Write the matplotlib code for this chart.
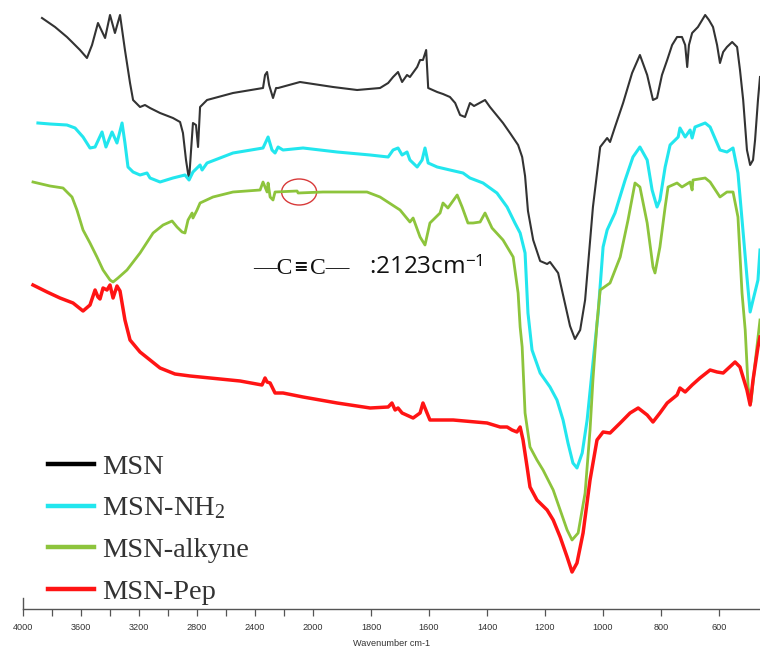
import numpy as np
import matplotlib
matplotlib.use("Agg")
import matplotlib.pyplot as plt
from matplotlib.patches import Ellipse
from matplotlib.transforms import ScaledTranslation
from matplotlib.lines import Line2D

# ---------------- data (wavenumber cm-1, transmittance a.u. with offsets) ----------------
msn_w = [3869, 3779, 3697, 3662, 3607, 3559, 3524, 3483, 3434, 3400, 3366, 3331, 3297, 3262, 3241,
         3193, 3159, 3124, 3055, 2966, 2917, 2897, 2876, 2855, 2841, 2828, 2807, 2793, 2779, 2731,
         2552, 2345, 2331, 2317, 2303, 2276, 2255, 2241, 2090, 1931, 1848, 1769, 1741, 1724, 1707,
         1693, 1676, 1666, 1641, 1631, 1621, 1610, 1603, 1572, 1552, 1528, 1510, 1493, 1476, 1459,
         1445, 1407, 1390, 1345, 1321, 1293, 1279, 1269, 1259, 1241, 1217, 1193, 1183, 1155, 1138,
         1114, 1097, 1079, 1062, 1035, 1010, 986, 976, 959, 931, 900, 873, 848, 828, 814, 797, 779,
         762, 745, 728, 717, 710, 704, 693, 673, 648, 635, 621, 607, 597, 586, 573, 555, 538, 528,
         517, 504, 493, 483, 476, 466, 459]
msn_t = [591, 582, 572, 567, 559, 551, 564, 586, 571, 594, 576, 594, 559, 526, 509,
         502, 504, 501, 496, 491, 487, 476, 449, 429, 459, 486, 484, 462, 502, 509,
         516, 521, 534, 537, 524, 511, 521, 521, 527, 522, 519, 521, 526, 532, 537,
         527, 534, 532, 542, 549, 549, 559, 521, 517, 515, 512, 506, 494, 492, 506,
         503, 509, 502, 486, 476, 464, 452, 433, 398, 369, 348, 345, 347, 336, 314,
         283, 270, 279, 309, 402, 462, 471, 467, 482, 506, 536, 554, 534, 509, 511, 534, 549,
         564, 572, 572, 564, 542, 564, 576, 582, 594, 589, 582, 564, 546, 557, 562, 567, 562, 539,
         509, 459, 444, 449, 469, 509, 532]

nh2_w = [3897, 3814, 3697, 3641, 3586, 3538, 3503, 3455, 3428, 3386, 3352, 3317, 3297, 3276, 3241,
         3193, 3145, 3124, 3055, 2966, 2883, 2855, 2828, 2779, 2765, 2731, 2552, 2345, 2310, 2283,
         2262, 2241, 2207, 2069, 1917, 1803, 1741, 1724, 1707, 1693, 1676, 1666, 1641, 1624, 1614,
         1603, 1572, 1528, 1483, 1459, 1414, 1366, 1331, 1304, 1286, 1269, 1259, 1245, 1217, 1183,
         1159, 1138, 1121, 1104, 1090, 1072, 1055, 1035, 1017, 1000, 986, 959, 924, 897, 873, 848,
         831, 814, 804, 786, 769, 741, 735, 717, 700, 693, 683, 648, 631, 597, 573, 552, 535, 517,
         504, 493, 483, 466, 459]
nh2_t = [486, 485, 484, 481, 472, 461, 462, 477, 462, 477, 466, 486, 466, 442, 437,
         434, 436, 431, 427, 431, 434, 429, 437, 444, 439, 446, 456, 461, 472, 459,
         456, 462, 459, 461, 457, 454, 452, 459, 461, 454, 457, 449, 442, 449, 461,
         446, 442, 439, 436, 431, 426, 416, 402, 386, 376, 356, 296, 259, 236, 222,
         209, 189, 166, 146, 141, 156, 189, 246, 296, 362, 379, 396, 429, 452, 462, 449,
         419, 402, 409, 442, 464, 472, 481, 472, 479, 471, 482, 486, 482, 459, 457, 461, 436, 376,
         332, 297, 309, 329, 359]

alk_w = [3931, 3814, 3724, 3690, 3662, 3628, 3586, 3538, 3490, 3448, 3400, 3379, 3345, 3283, 3193,
         3103, 3034, 2972, 2938, 2903, 2883, 2862, 2834, 2828, 2800, 2779, 2690, 2552, 2365, 2345,
         2317, 2310, 2296, 2276, 2262, 2110, 2103, 1966, 1814, 1769, 1700, 1666, 1655, 1631, 1614,
         1597, 1562, 1552, 1535, 1503, 1486, 1466, 1448, 1424, 1407, 1383, 1345, 1310, 1293, 1286,
         1279, 1269, 1252, 1228, 1207, 1172, 1148, 1124, 1107, 1086, 1062, 1045, 1035, 1021, 1010,
         976, 941, 914, 890, 873, 848, 828, 821, 804, 786, 776, 745, 728, 700, 693, 690, 648, 631,
         597, 573, 552, 535, 521, 510, 500, 490, 476, 459]
alk_t = [427, 423, 421, 416, 412, 399, 379, 366, 352, 339, 329, 327, 331, 339, 356,
         376, 384, 388, 382, 377, 376, 389, 396, 391, 399, 406, 412, 417, 419, 427,
         417, 426, 412, 409, 417, 418, 416, 417, 417, 412, 399, 387, 391, 372, 364,
         386, 396, 406, 401, 414, 402, 386, 386, 387, 396, 381, 369, 352, 316, 282,
         262, 196, 162, 149, 139, 119, 99, 79, 69, 76, 116, 179, 229, 286, 319,
         326, 352, 389, 426, 422, 386, 342, 336, 362, 402, 422, 426, 422, 427, 419, 429, 431, 427,
         412, 417, 417, 392, 316, 279, 222, 207, 246, 289]

pep_w = [3931, 3834, 3745, 3655, 3586, 3538, 3503, 3483, 3469, 3448, 3421, 3400, 3379, 3352, 3331,
         3297, 3262, 3193, 3124, 3055, 2952, 2848, 2710, 2503, 2352, 2331, 2317, 2296, 2262, 2207,
         2069, 1917, 1803, 1741, 1728, 1717, 1707, 1693, 1655, 1631, 1621, 1607, 1597, 1517, 1400,
         1355, 1331, 1314, 1297, 1286, 1276, 1262, 1252, 1228, 1193, 1172, 1148, 1124, 1107, 1090,
         1069, 1045, 1021, 1000, 976, 941, 907, 879, 848, 828, 804, 779, 745, 735, 717, 693, 666,
         631, 607, 586, 545, 528, 504, 493, 483, 466, 459]
pep_t = [324, 317, 311, 306, 298, 304, 319, 312, 310, 321, 319, 324, 311, 323, 318,
         289, 269, 257, 249, 241, 235, 233, 231, 228, 224, 231, 227, 226, 216, 216,
         212, 206, 201, 202, 206, 199, 201, 196, 191, 196, 206, 196, 189, 189, 186,
         182, 182, 179, 177, 182, 169, 142, 122, 109, 99, 89, 72, 52, 37, 46,
         76, 129, 169, 177, 176, 186, 196, 201, 194, 187, 196, 206, 214, 221, 217, 224, 231,
         239, 237, 236, 247, 242, 219, 204, 229, 262, 272]

series_names = ["MSN", "MSN-NH$_2$", "MSN-alkyne", "MSN-Pep"]
series_colors = ["#333333", "#22E6EE", "#8DC43C", "#FF1414"]
legend_colors = ["#000000", "#22E6EE", "#8DC43C", "#FF1414"]

tick_values = [4000, 3800, 3600, 3400, 3200, 3000, 2800, 2600, 2400, 2200, 2000,
               1800, 1600, 1400, 1200, 1000, 800, 600]
tick_labels = ["4000", "", "3600", "", "3200", "", "2800", "", "2400", "", "2000",
               "1800", "1600", "1400", "1200", "1000", "800", "600"]

alkyne_peak = 2096
annot_parts = ["\u2014C", "\u2261", "C\u2014"]
annot_label_b = ":2123cm$^{\\mathsf{-1}}$"

# ---------------- figure ----------------
plt.rcParams["mathtext.fontset"] = "custom"
plt.rcParams["mathtext.rm"] = "Liberation Serif"
plt.rcParams["mathtext.it"] = "Liberation Serif:italic"
plt.rcParams["mathtext.sf"] = "Open Sans"
fig = plt.figure(figsize=(7.6, 6.52), dpi=100)
ax = fig.add_axes([23 / 760, 43 / 652, 737 / 760, 609 / 652])


def fwd(w):
    w = np.asarray(w, dtype=float)
    return np.where(w >= 2000, (w - 2000) / 2.0, w - 2000)


def inv(u):
    u = np.asarray(u, dtype=float)
    return np.where(u >= 0, 2.0 * u + 2000, u + 2000)


ax.set_xscale("function", functions=(fwd, inv))

data = [(msn_w, msn_t), (nh2_w, nh2_t), (alk_w, alk_t), (pep_w, pep_t)]
widths = [1.5, 2.2, 2.0, 2.5]
for (w, t), c, lw in zip(data, series_colors, widths):
    ax.plot(w, t, color=c, lw=lw, solid_joinstyle="round")

ax.set_xlim(4000, 459)
ax.set_ylim(0, 609)

ax.set_xticks(tick_values)
ax.set_xticklabels(tick_labels, fontsize=6.6, family="Liberation Sans", color="#333333")
ax.xaxis.set_minor_locator(matplotlib.ticker.NullLocator())
ax.tick_params(axis="x", direction="out", length=5, width=0.9, color="#555555", pad=5)
ax.set_yticks([])
ax.set_xlabel("Wavenumber cm-1", fontsize=6.6, family="Liberation Sans", color="#333333", labelpad=5)

for s in ["top", "right"]:
    ax.spines[s].set_visible(False)
ax.spines["bottom"].set_color("#555555")
ax.spines["bottom"].set_linewidth(1.0)
ax.spines["left"].set_color("#555555")
ax.spines["left"].set_linewidth(1.0)
ax.spines["left"].set_bounds(0, 11)

# annotation
ell = Ellipse((0, 0), 0.35, 0.26, fill=False, edgecolor="#D83A3A", lw=1.0,
              transform=fig.dpi_scale_trans + ScaledTranslation(alkyne_peak, 417, ax.transData))
ax.add_patch(ell)
anchor = (2414, 341)
ax.annotate(annot_parts[0], xy=anchor, xytext=(0, 0), textcoords="offset pixels",
            fontsize=17, family="Liberation Serif", va="center", ha="left", color="#111111")
ax.annotate(annot_parts[1], xy=anchor, xytext=(47, 1), textcoords="offset pixels",
            fontsize=12.5, family="DejaVu Sans", fontweight="bold", va="center", ha="center",
            color="#111111")
ax.annotate(annot_parts[2], xy=anchor, xytext=(57, 0), textcoords="offset pixels",
            fontsize=17, family="Liberation Serif", va="center", ha="left", color="#111111")
ax.text(1806, 341, annot_label_b, fontsize=17.5, family=["Open Sans", "DejaVu Sans"],
        va="center", ha="left", color="#111111")

handles = [Line2D([], [], color=c, lw=3.2) for c in legend_colors]
fig.legend(handles, series_names, loc="upper left", bbox_to_anchor=(48 / 760, 1 - 454 / 652),
           frameon=False, prop={"family": "Liberation Serif", "size": 20.5},
           handlelength=1.6, handletextpad=0.3, labelspacing=0.55, borderpad=0, borderaxespad=0,
           labelcolor="#333333")

fig.savefig("out.png", dpi=100)
